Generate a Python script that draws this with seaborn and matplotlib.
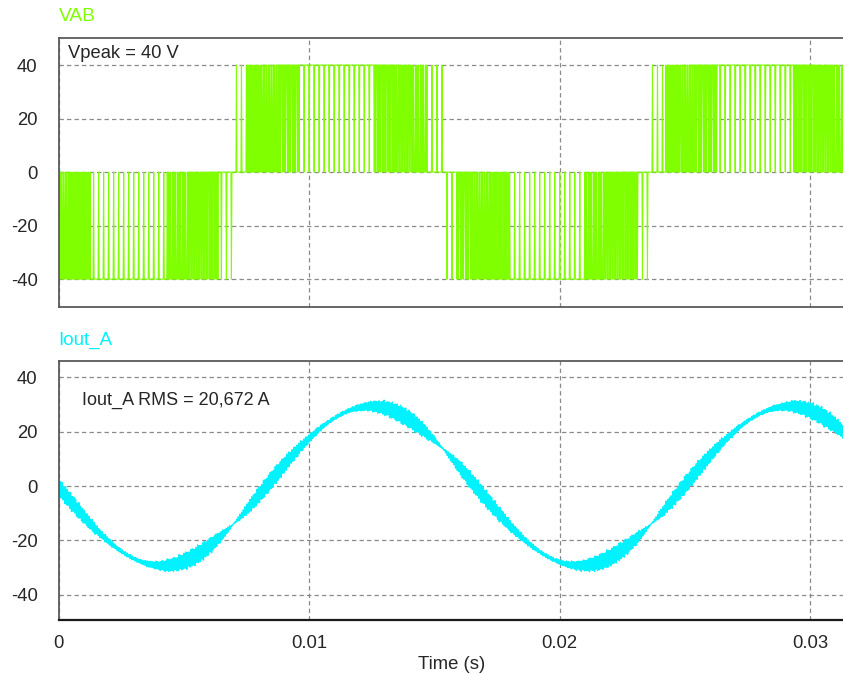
import numpy as np
import pandas as pd
import matplotlib
matplotlib.use("Agg")
import matplotlib.pyplot as plt
import seaborn as sns

# ---- inverter / load values -------------------------------------------------
V_PEAK = 40.0          # DC-link voltage -> VAB levels (V)
I_RMS = 20.672         # RMS of the output current (A)
F_FUND = 60.0          # fundamental frequency (Hz)
F_CARRIER = 7500.0     # triangular carrier frequency (Hz)
MOD_INDEX = 0.95       # amplitude modulation index
T_V_ZERO = 0.00698     # rising zero crossing of the modulating reference (s)
T_I_ZERO = 0.00830     # rising zero crossing of the output current (s)
L_RIPPLE = 0.095e-3    # inductance that shapes the switching ripple (H)
T_STOP = 0.03137       # end of the displayed window (s)
DT_SIM = 1e-6          # solver step (s)
PRINT_V = 20           # VAB stored every 20 solver steps
PRINT_I = 10           # current stored every 10 solver steps

Y_TICKS = [-40, -20, 0, 20, 40]
X_TICKS = [0.0, 0.01, 0.02, 0.03]
X_TICKLABELS = ["0", "0.01", "0.02", "0.03"]

GREEN = "#80FF00"
CYAN = "#00F2FF"
TEXT = "#262626"

# ---- unipolar sine-PWM full bridge -----------------------------------------
t = np.arange(0.0, T_STOP + DT_SIM, DT_SIM)
ref = MOD_INDEX * np.sin(2 * np.pi * F_FUND * (t - T_V_ZERO))
phase = (t * F_CARRIER) % 1.0
carrier = 4.0 * np.abs(phase - 0.5) - 1.0
leg_a = (ref > carrier).astype(float)
leg_b = (-ref > carrier).astype(float)
vab = V_PEAK * (leg_a - leg_b)

# output current: fundamental plus the ripple the inductor integrates
i_peak = np.sqrt(2.0) * I_RMS
i_fund = i_peak * np.sin(2 * np.pi * F_FUND * (t - T_I_ZERO))
ripple = np.cumsum(vab - V_PEAK * ref) * DT_SIM / L_RIPPLE
win = int(round(1.0 / (2 * F_CARRIER) / DT_SIM))
ripple -= pd.Series(ripple).rolling(win, center=True, min_periods=1).mean().to_numpy()
i_out = i_fund + ripple

df_v = pd.DataFrame({"time": t[::PRINT_V], "VAB": vab[::PRINT_V]})
df_i = pd.DataFrame({"time": t[::PRINT_I], "Iout_A": i_out[::PRINT_I]})

# ---- figure -------------------------------------------------------------------
sns.set_theme(style="white")
plt.rcParams["font.family"] = ["Liberation Sans", "DejaVu Sans"]
plt.rcParams["path.simplify"] = False

W, H = 843, 674
fig = plt.figure(figsize=(W / 100, H / 100), dpi=100)
left = 58.5 / W
ax1 = fig.add_axes([left, 1 - 307 / H, 1 - left + 0.002, (307 - 38) / H])
ax2 = fig.add_axes([left, 1 - 619.5 / H, 1 - left + 0.002, (619.5 - 360.7) / H])

sns.lineplot(data=df_v, x="time", y="VAB", ax=ax1, color=GREEN, lw=0.8,
             estimator=None, sort=False)
sns.lineplot(data=df_i, x="time", y="Iout_A", ax=ax2, color=CYAN, lw=1.0,
             estimator=None, sort=False)

ax1.set_ylim(-50.4, 50.1)
ax2.set_ylim(-49.0, 46.0)

for ax in (ax1, ax2):
    ax.set_xlim(0.0, T_STOP)
    ax.set_yticks(Y_TICKS)
    ax.set_yticklabels([str(v) for v in Y_TICKS])
    ax.set_xticks(X_TICKS)
    ax.grid(True, color="#8a8a8a", lw=0.9, ls=(0, (3.5, 2.5)))
    ax.set_axisbelow(True)
    ax.tick_params(axis="both", length=0, labelsize=13.3, colors=TEXT, pad=0)
    ax.tick_params(axis="y", pad=15)
    ax.set_ylabel("")
    ax.set_xlabel("")
    for side in ("top", "left", "bottom"):
        ax.spines[side].set_visible(True)
        ax.spines[side].set_color("#5a5a5a")
        ax.spines[side].set_linewidth(1.3)
    ax.spines["right"].set_visible(False)

ax1.set_xticklabels([])
ax2.set_xticklabels(X_TICKLABELS)
ax2.tick_params(axis="x", pad=11)
ax2.spines["bottom"].set_color("#1a1a1a")
ax2.spines["bottom"].set_linewidth(1.6)
ax2.set_xlabel("Time (s)", fontsize=13.3, color=TEXT, labelpad=3)

fig.text(58.5 / W, 1 - 16.7 / H, "VAB", color=GREEN, fontsize=13.8, va="center", ha="left")
fig.text(58.5 / W, 1 - 340 / H, "Iout_A", color=CYAN, fontsize=13.5, va="center", ha="left")
fig.text(68 / W, 1 - 53.5 / H, "Vpeak = 40 V", color=TEXT, fontsize=13.2,
         va="center", ha="left")
fig.text(81.5 / W, 1 - 400 / H, "Iout_A RMS = 20,672 A", color=TEXT, fontsize=13.0,
         va="center", ha="left")

fig.savefig("out.png", dpi=100, facecolor="white")
